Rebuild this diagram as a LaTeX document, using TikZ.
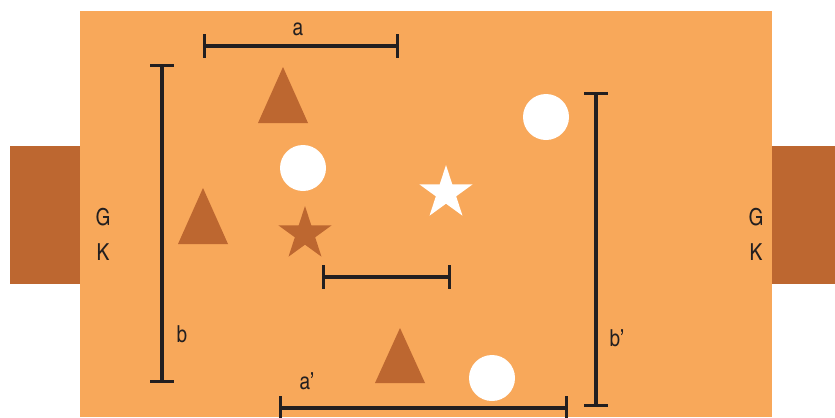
\documentclass[tikz,border=0pt]{standalone}
\usepackage{fontspec}
\setmainfont{TeX Gyre Heros Cn}
\usepackage{tikz}
\usetikzlibrary{arrows.meta}

\definecolor{pitch}{RGB}{248,168,90}
\definecolor{rust}{RGB}{189,103,48}
\definecolor{ink}{RGB}{35,31,32}

\begin{document}
\begin{tikzpicture}[
						x=0.03cm, y=-0.03cm,
						every node/.style={font=\fontsize{20}{24}\selectfont, text=ink},
						dimline/.style={draw=ink, line width=2.8pt, {Bar[width=20pt,line width=2.8pt]}-{Bar[width=20pt,line width=2.8pt]}},
						cone/.style={fill=rust},
						ball/.style={fill=white},
						line join=miter
						]
						
						\useasboundingbox (0,0) rectangle (835,417);
						
						% pitch and goals
						\fill[rust] (10,146) rectangle (80,284);
						\fill[rust] (772,146) rectangle (835,284);
						\fill[pitch] (80,11) rectangle (772,417);
						
						\node (g1) at (103,217) {G};
						\node (k1) at (103,252) {K};
						\node (g2) at (756,217) {G};
						\node (k2) at (756,252) {K};
						
						% cones
						\fill[cone] (258,123) -- (283,67) -- (308,123) -- cycle;
						\fill[cone] (178,244) -- (203,188) -- (228,244) -- cycle;
						\fill[cone] (375,383) -- (400,328) -- (425,383) -- cycle;
						
						% balls
						\fill[ball] (303,168) circle (23);
						\fill[ball] (546,117) circle (23);
						\fill[ball] (492,378) circle (23);
						
						% stars
						\fill[rust] (305,234) +(-90:28) -- +(54:28) -- +(198:28) -- +(-18:28) -- +(126:28) -- cycle;
						\fill[white] (446,193) +(-90:28) -- +(54:28) -- +(198:28) -- +(-18:28) -- +(126:28) -- cycle;
						
						% distances
						\coordinate (a1) at (203,46);
						\coordinate (a2) at (399,46);
						\coordinate (b1) at (162,64);
						\coordinate (b2) at (162,383);
						\coordinate (m1) at (322,277);
						\coordinate (m2) at (451,277);
						\coordinate (c1) at (279,408);
						\coordinate (c2) at (568,408);
						\coordinate (d1) at (596,92);
						\coordinate (d2) at (596,407);
						
						\draw[dimline] (a1) -- (a2);
						\draw[dimline] (b1) -- (b2);
						\draw[dimline] (m1) -- (m2);
						\draw[dimline] (c1) -- (c2);
						\draw[dimline] (d1) -- (d2);
						
						\node (la) at (298,29) {a};
						\node (lb) at (182,334) {b};
						\node (lc) at (307,381) {a’};
						\node (ld) at (617,338) {b’};
						
					\end{tikzpicture}
\end{document}
